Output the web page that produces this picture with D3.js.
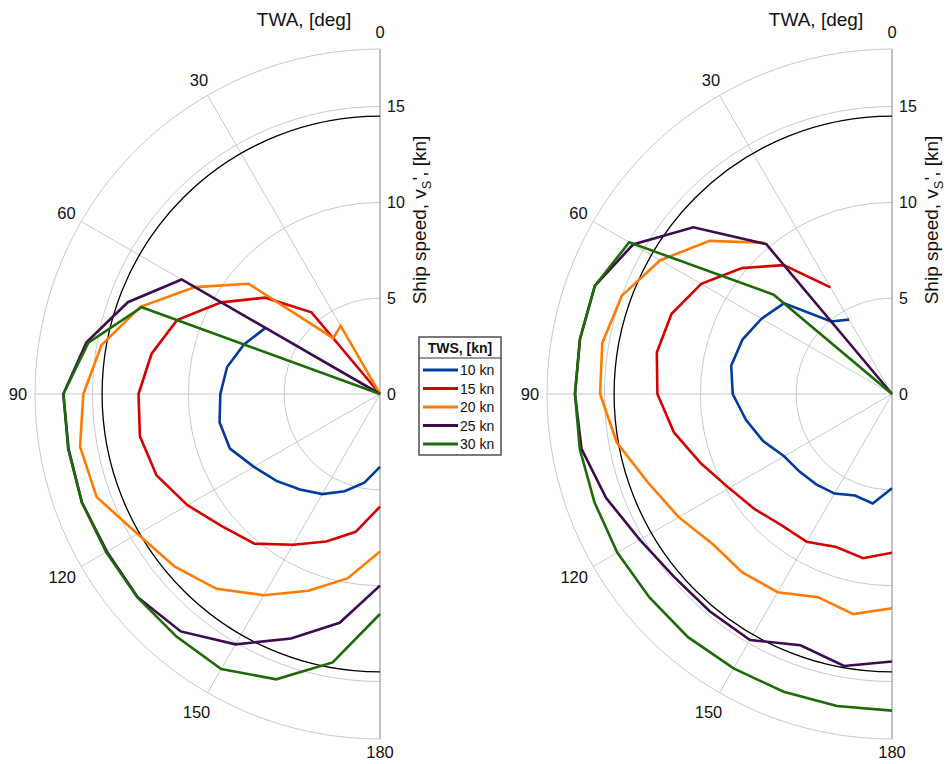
<!DOCTYPE html>
<html><head><meta charset="utf-8">
<script src="https://cdn.jsdelivr.net/npm/d3@7"></script>
<style>
body{margin:0;background:#fff}
text{font-family:"Liberation Sans",Arial,Helvetica,sans-serif;fill:#111}
</style>
</head><body>
<svg id="chart" width="949" height="764"></svg>
<script>
// ---- data ----
const angles = [0, 30, 40, 50, 60, 70, 80, 90, 100, 110, 120, 130, 140, 150, 160, 170, 180];
const seriesLabels = ["10 kn", "15 kn", "20 kn", "25 kn", "30 kn"];
const legendTitle = "TWS, [kn]";
const angleTicks = [0, 30, 60, 90, 120, 150, 180];
const radialTicks = [0, 5, 10, 15];
const radialMax = 18;
const referenceSpeed = 14.5;

// left panel
const left10 = [null, null, null, null, 6.9, 7.55, 8.1, 8.33, 8.5, 8.33, 7.6, 7.05, 6.5, 6.03, 5.4, 4.7, 3.8];
const left15 = [0, null, 5.56, 7.82, 9.56, 11.27, 12.1, 12.6, 12.72, 12.41, 11.6, 10.75, 10.19, 9.08, 8.19, 7.3, 5.88];
const left20 = [0, 4.1, 3.8, 8.95, 11.15, 13.3, 14.75, 15.48, 15.89, 15.73, 14.6, 14.0, 13.27, 12.12, 10.92, 9.77, 8.22];
const left25 = [0, null, null, null, 11.95, 14.0, 15.55, 16.52, 16.5, 16.55, 16.45, 16.5, 16.17, 15.08, 13.58, 12.12, 10.0];
const left30 = [0, null, null, null, null, 13.23, 15.45, 16.52, 16.52, 16.55, 16.5, 16.52, 16.52, 16.57, 15.84, 14.22, 11.48];

// right panel
const right10 = [null, 4.48, 4.94, 7.36, 7.86, 8.3, 8.52, 8.31, 7.74, 7.16, 6.5, 6.3, 6.15, 6.0, 5.64, 5.8, 4.92];
const right15 = [null, 6.42, 8.78, 10.22, 11.49, 12.24, 12.46, 12.24, 11.55, 10.6, 9.82, 9.35, 8.95, 8.9, 8.5, 8.7, 8.28];
const right20 = [null, null, 10.3, 12.43, 13.96, 15.0, 15.35, 15.23, 14.58, 13.54, 12.85, 12.2, 12.15, 11.94, 11.28, 11.66, 11.18];
const right25 = [0, null, 10.2, 13.53, 15.6, 16.5, 16.53, 16.54, 16.45, 15.87, 15.2, 14.84, 14.8, 14.82, 13.95, 14.41, 13.96];
const right30 = [0, null, null, 8.06, 15.83, 16.5, 16.53, 16.54, 16.54, 16.52, 16.55, 16.52, 16.56, 16.53, 16.53, 16.53, 16.52];

// ---- styles ----
const colors = ["#003b9e", "#d50000", "#ff7b00", "#3d0b4e", "#1c6a08"];

const svg = d3.select("#chart");
const R = 345;
const r = d3.scaleLinear().domain([0, radialMax]).range([0, R]);
const a = d3.scaleLinear().domain([0, 180]).range([0, -Math.PI]);
const line = d3.lineRadial().angle(d => a(d[0])).radius(d => r(d[1]));

function halfCircle(rad) {
  const p = d3.path();
  p.moveTo(0, rad);
  p.arc(0, 0, rad, Math.PI / 2, 3 * Math.PI / 2);
  return p.toString();
}

function panel(cx, cy, series) {
  const g = svg.append("g").attr("transform", `translate(${cx},${cy})`);
  // grid circles
  [...radialTicks.filter(t => t > 0), radialMax].forEach(t => {
    g.append("path").attr("d", halfCircle(r(t))).attr("fill", "none")
      .attr("stroke", "#c9c9c9").attr("stroke-width", 1);
  });
  // spokes
  angleTicks.filter(t => t > 0 && t < 180).forEach(t => {
    g.append("line").attr("x1", 0).attr("y1", 0)
      .attr("x2", Math.sin(a(t)) * R).attr("y2", -Math.cos(a(t)) * R)
      .attr("stroke", "#c9c9c9").attr("stroke-width", 1);
  });
  // vertical axis
  g.append("line").attr("x1", 0).attr("x2", 0).attr("y1", -R).attr("y2", R)
    .attr("stroke", "#9a9a9a").attr("stroke-width", 1.2);
  // reference circle
  g.append("path").attr("d", halfCircle(r(referenceSpeed))).attr("fill", "none")
    .attr("stroke", "#000").attr("stroke-width", 1.3);
  // series
  series.forEach((vals, i) => {
    const pts = angles.map((t, k) => [t, vals[k]]).filter(d => d[1] != null);
    g.append("path").attr("d", line(pts)).attr("fill", "none")
      .attr("stroke", colors[i]).attr("stroke-width", 2.6)
      .attr("stroke-linejoin", "miter");
  });
  // radial tick labels
  radialTicks.forEach(t => {
    g.append("text").attr("x", 7).attr("y", -r(t)).attr("dy", "0.36em")
      .attr("font-size", 16).text(t);
  });
  // angle labels
  angleTicks.forEach(t => {
    const lr = (t === 120 || t === 150) ? 367 : (t === 180 ? 358 : 362);
    g.append("text").attr("x", Math.sin(a(t)) * lr).attr("y", -Math.cos(a(t)) * lr)
      .attr("dy", "0.36em").attr("text-anchor", "middle").attr("font-size", 16.5).text(t);
  });
  // titles
  g.append("text").attr("x", -76).attr("y", 26 - cy).attr("text-anchor", "middle")
    .attr("font-size", 19).text("TWA, [deg]");
  const yl = g.append("text").attr("transform", `translate(46,${220 - cy}) rotate(-90)`)
    .attr("text-anchor", "middle").attr("font-size", 19);
  yl.append("tspan").text("Ship speed, v");
  yl.append("tspan").attr("font-size", 13).attr("dy", 5).text("S");
  yl.append("tspan").attr("dy", -5).text("', [kn]");
}

panel(380, 394, [left10, left15, left20, left25, left30]);
panel(892, 394, [right10, right15, right20, right25, right30]);

// legend
const lg = svg.append("g").attr("transform", "translate(419,337)");
lg.append("rect").attr("width", 82).attr("height", 118).attr("fill", "#fff")
  .attr("stroke", "#333").attr("stroke-width", 1.3);
lg.append("text").attr("x", 41).attr("y", 16).attr("text-anchor", "middle")
  .attr("font-size", 14).attr("font-weight", "bold").text(legendTitle);
lg.append("line").attr("x1", 0).attr("x2", 82).attr("y1", 21).attr("y2", 21)
  .attr("stroke", "#333").attr("stroke-width", 1.2);
seriesLabels.forEach((s, i) => {
  const y = 33 + i * 18.5;
  lg.append("line").attr("x1", 4).attr("x2", 39).attr("y1", y).attr("y2", y)
    .attr("stroke", colors[i]).attr("stroke-width", 3);
  lg.append("text").attr("x", 41).attr("y", y).attr("dy", "0.36em")
    .attr("font-size", 14).text(s);
});
</script>
</body></html>
